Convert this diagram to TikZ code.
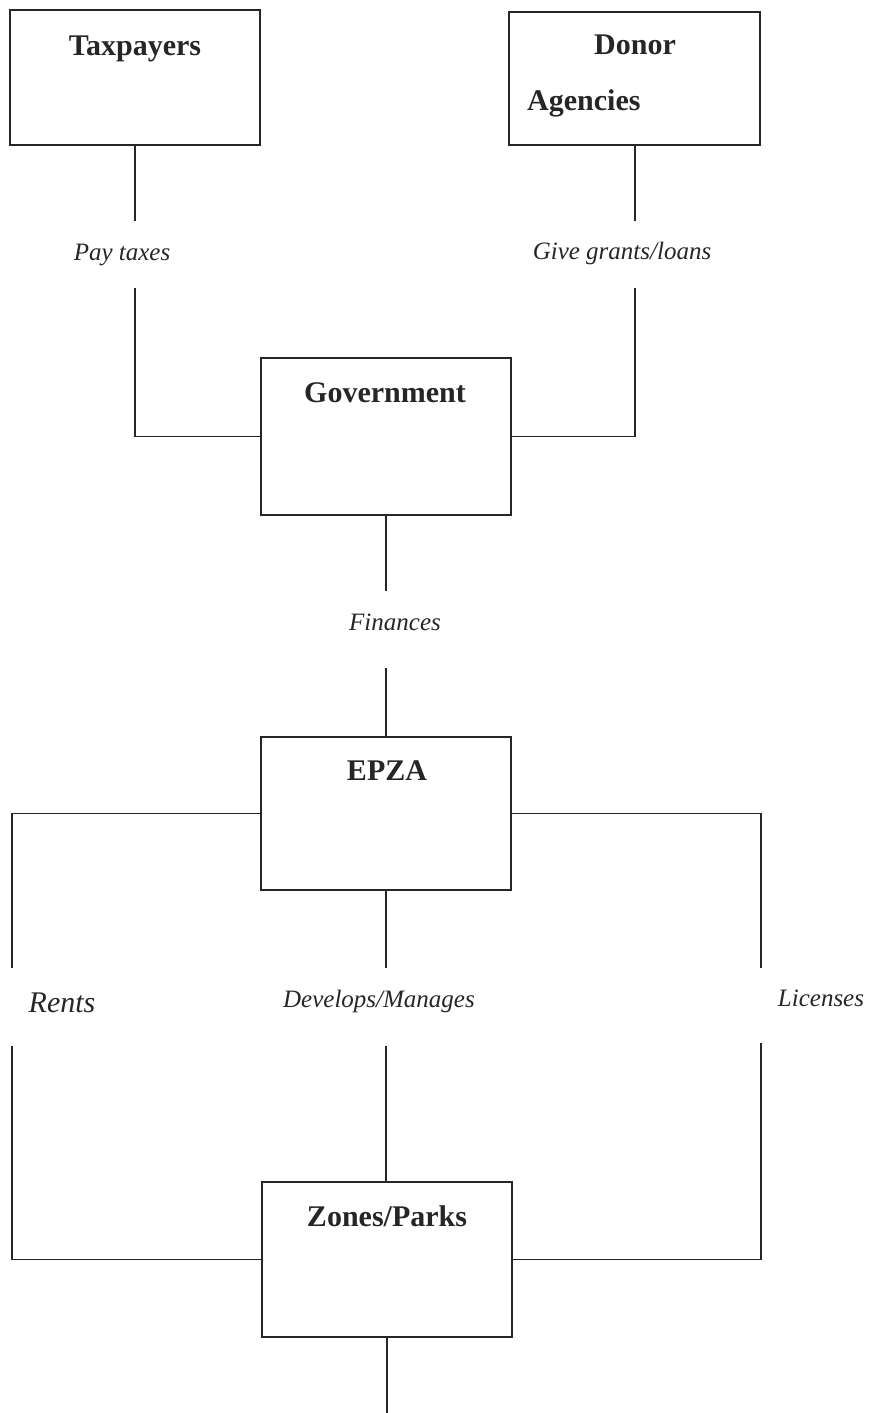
\documentclass[tikz,border=0pt]{standalone}
\usepackage{fontspec}
\setmainfont{Liberation Serif}
\begin{document}
\begin{tikzpicture}[x=1pt,y=-1pt,
  box/.style={draw=black!85, line width=2pt, rectangle, minimum width=#1, minimum height=150pt, inner sep=0pt},
  box/.default=250pt,
  title/.style={font=\fontsize{30}{34}\selectfont\bfseries, text=black!85, anchor=base, inner sep=0pt},
  lab/.style={font=\fontsize{25}{28}\selectfont\itshape, text=black!85, anchor=base, inner sep=0pt},
  conn/.style={draw=black!85, line width=1.7pt}]
\useasboundingbox (0,0) rectangle (871,1413);
% boxes
\node[box, minimum height=135pt] (tax) at (135,77.5) {};
\node[box, minimum width=251pt, minimum height=133pt] (don) at (634.5,78.5) {};
\node[box, minimum height=157pt] (gov) at (386,436.5) {};
\node[box, minimum height=153pt] (epza) at (386,813.5) {};
\node[box, minimum height=155pt] (zone) at (387,1259.5) {};
% box titles
\node[title] (taxT) at (135,56) {Taxpayers};
\node[title] (donT) at (635,55) {Donor};
\node[title, anchor=base west] (donT2) at (527,110) {Agencies};
\node[title] (govT) at (385,402) {Government};
\node[title] (epzaT) at (387,780) {EPZA};
\node[title] (zoneT) at (387,1226) {Zones/Parks};
% labels
\node[lab] (lPay) at (122,260) {Pay taxes};
\node[lab] (lGive) at (622,259) {Give grants/loans};
\node[lab] (lFin) at (395,630) {Finances};
\node[lab, font=\fontsize{30}{34}\selectfont\itshape] (lRent) at (62,1012) {Rents};
\node[lab] (lDev) at (379,1007) {Develops/Manages};
\node[lab] (lLic) at (821,1006) {Licenses};
% coordinates
\coordinate (a1) at (135,221);
\coordinate (a2) at (135,288);
\coordinate (b1) at (635,221);
\coordinate (b2) at (635,288);
\coordinate (c1) at (386,591);
\coordinate (c2) at (386,668);
\coordinate (d1) at (12,968);
\coordinate (d2) at (12,1046);
\coordinate (e1) at (386,968);
\coordinate (e2) at (386,1046);
\coordinate (f1) at (761,968);
\coordinate (f2) at (761,1043);
\coordinate (g1) at (387,1413);
% connectors
\draw[conn] (tax.south -| a1) -- (a1);
\draw[conn] (a2) |- (gov.west);
\draw[conn] (don.south -| b1) -- (b1);
\draw[conn] (b2) |- (gov.east);
\draw[conn] (gov.south) -- (c1);
\draw[conn] (c2) -- (epza.north);
\draw[conn] (epza.west) -| (d1);
\draw[conn] (d2) |- (zone.west);
\draw[conn] (epza.south) -- (e1);
\draw[conn] (e2) -- (e2 |- zone.north);
\draw[conn] (epza.east) -| (f1);
\draw[conn] (f2) |- (zone.east);
\draw[conn] (zone.south) -- (g1);
\end{tikzpicture}
\end{document}
